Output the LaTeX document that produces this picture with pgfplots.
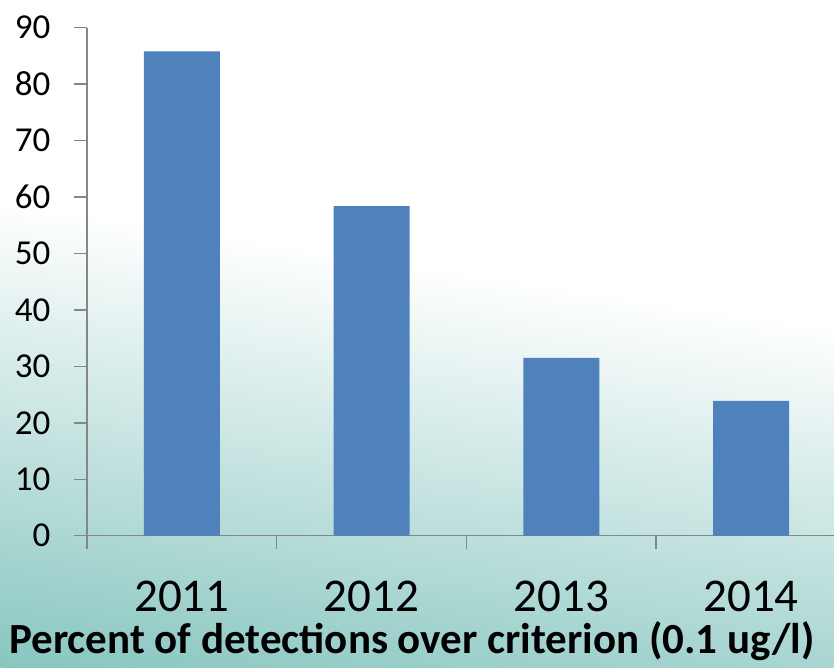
\documentclass[border=0pt]{standalone}
\usepackage{pgfplots}
\pgfplotsset{compat=1.18}
\usetikzlibrary{backgrounds}
\usepackage{fontspec}
\setmainfont{Carlito}
\definecolor{barblue}{RGB}{79,129,189}
\definecolor{axisgray}{RGB}{134,134,134}
\definecolor{tealdark}{RGB}{136,198,192}
\definecolor{tealmid}{RGB}{190,224,220}
\begin{document}
\begin{tikzpicture}[x=1pt,y=1pt]
\begin{axis}[
  scale only axis, width=747pt, height=508pt,
  xmin=-0.5, xmax=3.437, ymin=0, ymax=90,
  ytick={0,10,...,90},
  xtick={-0.5,0.5,1.5,2.5},
  xticklabels={},
  extra x ticks={0,1,2,3},
  extra x tick labels={2011,2012,2013,2014},
  extra x tick style={major tick length=0pt},
  axis x line=bottom, axis y line=left,
  axis line style={-, axisgray, line width=1.5pt},
  tick style={axisgray, line width=1.5pt},
  tick align=outside, major tick length=13pt,
  /pgf/number format/assume math mode=true,
  yticklabel style={font=\fontsize{35}{35}\selectfont, xshift=-20pt},
  xticklabel style={font=\fontsize{47}{47}\selectfont, yshift=-42pt},
  clip=false,
]
\addplot[ybar, bar width=76pt, fill=barblue, draw=none] coordinates {
  (0,85.8) (1,58.4) (2,31.5) (3,23.9)
};
\coordinate (O) at (rel axis cs:0,0);
\end{axis}

% page frame, measured from the axis corner
\path (O) ++(-87,-131.3) coordinate (BL);
\path (BL) ++(834,667) coordinate (TR);
\path (BL) ++(417,333.5) coordinate (C);
\path (BL) ++(412,14) coordinate (T);

% background gradient, tilted
\begin{scope}[on background layer]
\clip (BL) rectangle (TR);
\begin{scope}[shift={(BL)}, transform canvas={rotate around={-8.6:(C)}}]
\fill[tealdark] (-300,-500) rectangle (1134,-59);
\shade[bottom color=tealdark, middle color=tealmid, top color=white] (-300,-59) rectangle (1134,402.5);
\fill[white] (-300,402.5) rectangle (1134,1200);
\end{scope}
\end{scope}

\node[anchor=base, font=\bfseries\fontsize{43}{43}\selectfont] at (T)
  {Percent of detections over criterion (0.1 ug/l)};

\pgfresetboundingbox
\useasboundingbox (BL) rectangle (TR);
\end{tikzpicture}
\end{document}
